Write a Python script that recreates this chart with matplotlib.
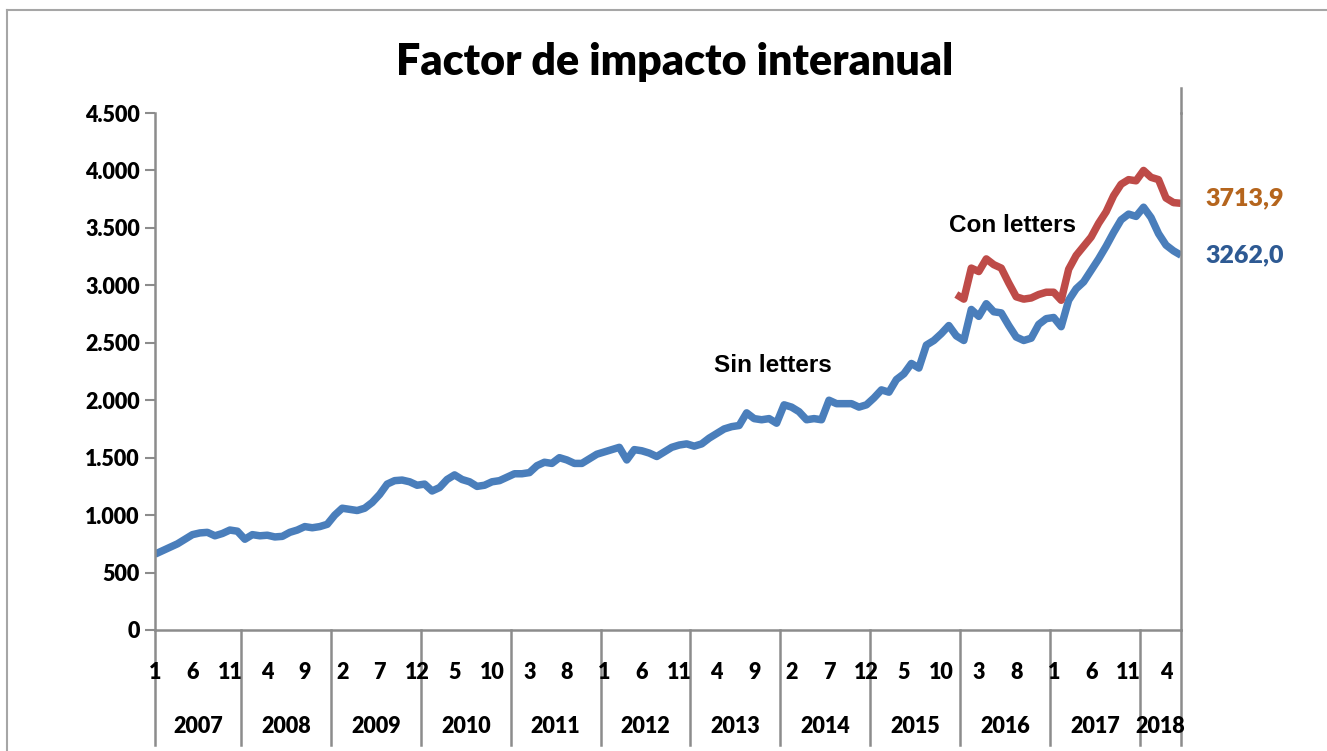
import numpy as np
import matplotlib
matplotlib.use("Agg")
import matplotlib.pyplot as plt
from matplotlib.lines import Line2D

# monthly series, Jan 2007 - Jun 2018
sin_letters = [
    660, 690, 720, 750, 790, 830, 845, 850, 820, 840, 870, 860,
    790, 830, 820, 825, 810, 815, 850, 870, 900, 890, 900, 920,
    1000, 1060, 1050, 1040, 1060, 1110, 1180, 1270, 1300, 1305, 1290, 1260,
    1270, 1210, 1240, 1310, 1350, 1310, 1290, 1250, 1260, 1290, 1300, 1330,
    1360, 1360, 1370, 1430, 1460, 1450, 1500, 1480, 1450, 1450, 1490, 1530,
    1550, 1570, 1590, 1480, 1570, 1560, 1540, 1510, 1550, 1590, 1610, 1620,
    1600, 1620, 1670, 1710, 1750, 1770, 1780, 1890, 1840, 1830, 1840, 1800,
    1960, 1940, 1900, 1830, 1840, 1830, 2000, 1970, 1970, 1970, 1940, 1960,
    2020, 2090, 2070, 2180, 2230, 2320, 2280, 2480, 2520, 2580, 2650, 2560,
    2520, 2790, 2730, 2840, 2770, 2760, 2650, 2550, 2520, 2540, 2660, 2710,
    2720, 2640, 2870, 2970, 3030, 3130, 3230, 3340, 3460, 3570, 3620, 3600,
    3680, 3590, 3450, 3350, 3300, 3262.0,
]
# starts Dec 2015
con_letters = [
    2920,
    2880, 3150, 3120, 3230, 3180, 3150, 3020, 2900, 2880, 2890, 2920, 2940,
    2940, 2870, 3140, 3260, 3340, 3420, 3540, 3640, 3780, 3880, 3920, 3910,
    4000, 3940, 3920, 3760, 3720, 3713.9,
]
con_start = 107
years = list(range(2007, 2019))
y_ticks = list(range(0, 4501, 500))

blue = "#4A7EBB"
red = "#BE4B48"
grey = "#8C8C8C"
tick_font = ["Lato", "DejaVu Sans"]
narrow_font = ["Liberation Sans Narrow", "Liberation Sans", "DejaVu Sans"]

W, H = 1327, 751
fig = plt.figure(figsize=(W / 100, H / 100), dpi=100)
ax = fig.add_axes([155 / W, 1 - 630 / H, (1181 - 155) / W, (630 - 113) / H])

n = len(sin_letters)
x = np.arange(n)
ax.plot(x, sin_letters, color=blue, lw=5.4, solid_joinstyle="round", solid_capstyle="butt")
ax.plot(x[con_start:], con_letters, color=red, lw=5.4, solid_joinstyle="round", solid_capstyle="butt")

ax.set_xlim(0, n - 1)
ax.set_ylim(0, 4500)
ax.set_yticks(y_ticks)
ax.set_yticklabels([f"{v:,}".replace(",", ".") for v in y_ticks],
                   fontsize=15.5, fontweight="heavy", family=tick_font)
ax.tick_params(axis="y", length=7, width=1.5, color=grey, pad=4)
ax.set_xticks([])
ax.spines["top"].set_visible(False)
for s in ["left", "bottom", "right"]:
    ax.spines[s].set_color(grey)
    ax.spines[s].set_linewidth(1.8)
# right border runs a little above the plot area
ax.add_line(Line2D([1, 1], [1, 1 + 25 / 517], transform=ax.transAxes, color=grey,
                   lw=1.8, clip_on=False))

# month labels every 5 months and year separators
trans = ax.get_xaxis_transform()
for i in range(0, n, 5):
    ax.text(i, -0.082, str(i % 12 + 1), transform=trans, ha="center", va="center",
            fontsize=15.5, fontweight="heavy", family=tick_font, clip_on=False)
edges = [-0.5 + 12 * k for k in range(len(years))]
edges[0] = 0
edges.append(n - 1)
for e in edges:
    ax.add_line(Line2D([e, e], [0, -0.222], transform=trans, color=grey, lw=1.8, clip_on=False))
for k, yr in enumerate(years):
    ax.text((edges[k] + edges[k + 1]) / 2, -0.186, str(yr), transform=trans, ha="center",
            va="center", fontsize=15.5, fontweight="heavy", family=tick_font, clip_on=False)

# series annotations
ax.text(82.5, 2300, "Sin letters", ha="center", va="center", fontsize=17.5,
        fontweight="bold", family=narrow_font)
ax.text(114.5, 3525, "Con letters", ha="center", va="center", fontsize=17.5,
        fontweight="bold", family=narrow_font)
ax.text(1.062, con_letters[-1] / 4500 + 0.01, f"{con_letters[-1]:.1f}".replace(".", ","),
        transform=ax.transAxes, ha="center", va="center", fontsize=18, fontweight="heavy",
        color="#B5651D", family=tick_font, clip_on=False)
ax.text(1.062, sin_letters[-1] / 4500, f"{sin_letters[-1]:.1f}".replace(".", ","),
        transform=ax.transAxes, ha="center", va="center", fontsize=18, fontweight="heavy",
        color="#2E5A93", family=tick_font, clip_on=False)

fig.text(675 / W, 1 - 62 / H, "Factor de impacto interanual", ha="center", va="center",
         fontsize=31, fontweight="heavy", family=tick_font)

# chart frame
fig.add_artist(Line2D([7 / W, 7 / W], [0, 1 - 10 / H], color="#A6A6A6", lw=1.5))
fig.add_artist(Line2D([7 / W, 1], [1 - 10 / H, 1 - 10 / H], color="#A6A6A6", lw=1.5))

fig.savefig("out.png", dpi=100)
